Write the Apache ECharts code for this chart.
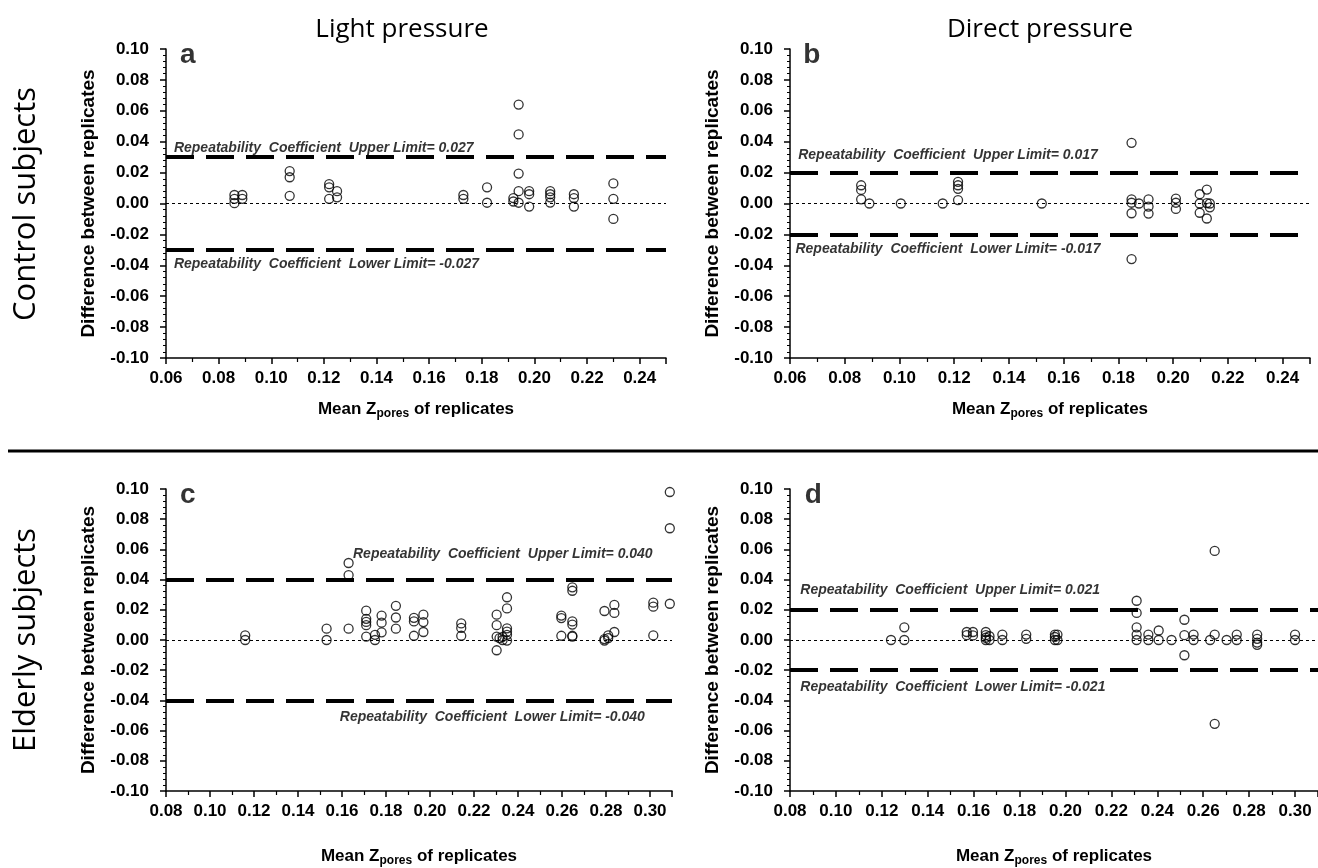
<!DOCTYPE html>
<html><head><meta charset="utf-8">
<script src="https://cdn.jsdelivr.net/npm/echarts@6/dist/echarts.min.js"></script>
<style>html,body{margin:0;padding:0;background:#fff}#c{width:1318px;height:868px}</style>
</head><body><div id="c"></div>
<script>
// Panel a: control subjects, light pressure
const aX=[0.086,0.086,0.086,0.089,0.089,0.107,0.107,0.107,0.122,0.122,0.122,0.125,0.125,0.173,0.173,0.182,0.182,0.192,0.192,0.194,0.194,0.194,0.194,0.194,0.198,0.198,0.198,0.206,0.206,0.206,0.206,0.215,0.215,0.215,0.230,0.230,0.230];
const aY=[0.0055,0.003,0.0002,0.0055,0.003,0.021,0.017,0.005,0.0125,0.0105,0.003,0.008,0.004,0.0055,0.003,0.0105,0.0005,0.0035,0.0013,0.064,0.0447,0.0194,0.008,0.0005,0.008,0.006,-0.002,0.008,0.006,0.004,0.0006,0.006,0.0035,-0.002,0.013,0.003,-0.010];
// Panel b: control subjects, direct pressure
const bX=[0.086,0.086,0.086,0.089,0.1005,0.1158,0.1214,0.1214,0.1214,0.1214,0.152,0.1848,0.1848,0.1848,0.1848,0.1848,0.1875,0.191,0.191,0.191,0.201,0.201,0.201,0.2097,0.2097,0.2097,0.2123,0.2123,0.2123,0.2134,0.2134];
const bY=[0.0118,0.0088,0.0027,0.0,0.0,0.0,0.014,0.0118,0.0095,0.0022,0.0,0.0393,0.0027,0.0005,-0.0063,-0.0360,0.0,0.0027,-0.002,-0.0065,0.0032,0.0005,-0.0035,0.006,0.0,-0.006,0.009,0.0003,-0.0097,0.0,-0.0025];
// Panel c: elderly subjects, light pressure
const cX=[0.116,0.116,0.153,0.153,0.163,0.163,0.163,0.171,0.171,0.171,0.171,0.171,0.175,0.175,0.178,0.178,0.178,0.1845,0.1845,0.1845,0.1927,0.1927,0.1927,0.197,0.197,0.197,0.2142,0.2142,0.2142,0.2303,0.2303,0.2303,0.2303,0.2316,0.233,0.233,0.235,0.235,0.235,0.235,0.235,0.235,0.2597,0.2597,0.2597,0.2647,0.2647,0.2647,0.2647,0.2647,0.2647,0.2793,0.2793,0.2793,0.281,0.281,0.2838,0.2838,0.2838,0.3015,0.3015,0.3015,0.309,0.309,0.309];
const cY=[0.003,0.0,0.0075,0.0,0.051,0.043,0.0075,0.0194,0.014,0.012,0.0098,0.0023,0.0034,0.0,0.0162,0.0115,0.0051,0.0226,0.0149,0.0075,0.0147,0.0123,0.0028,0.0168,0.0119,0.0053,0.011,0.008,0.0028,0.0168,0.0098,0.0023,-0.0068,0.0013,0.002,0.0,0.0283,0.0209,0.0077,0.0055,0.0034,-0.0004,0.0162,0.0145,0.0028,0.0349,0.0326,0.0123,0.0102,0.0028,0.0023,0.0192,0.0006,-0.0004,0.003,0.0013,0.0232,0.0179,0.0053,0.0247,0.0221,0.003,0.098,0.074,0.024];
// Panel d: elderly subjects, direct pressure
const dX=[0.124,0.1298,0.1298,0.157,0.157,0.1597,0.1597,0.1653,0.1653,0.1653,0.1653,0.1669,0.1669,0.1725,0.1725,0.1829,0.1829,0.1954,0.1954,0.1954,0.1965,0.1965,0.231,0.231,0.231,0.231,0.231,0.2361,0.2361,0.2406,0.2406,0.2462,0.2518,0.2518,0.2518,0.2558,0.2558,0.263,0.265,0.265,0.265,0.2702,0.2746,0.2746,0.2835,0.2835,0.2835,0.2835,0.300,0.300];
const dY=[0.0,0.0084,0.0,0.0053,0.0032,0.0053,0.003,0.0053,0.0032,0.0015,0.0,0.0025,0.0,0.0036,0.0,0.0036,0.0008,0.0036,0.002,0.0,0.0036,0.0,0.026,0.0179,0.0084,0.0036,0.0,0.0036,0.0,0.0063,0.0,0.0,0.0134,0.0032,-0.0101,0.0036,0.0,0.0,0.059,0.0036,-0.0555,0.0,0.0036,0.0,0.0036,0.0008,-0.0017,-0.0032,0.0036,0.0];

const limits=[0.027,0.017,0.040,0.021];
const limitText=['0.027','0.017','0.040','0.021'];
const panelLetters=['a','b','c','d'];
const xRanges=[[0.06,0.25],[0.06,0.25],[0.08,0.31],[0.08,0.31]];
const yRange=[-0.10,0.10];
const columnTitles=['Light pressure','Direct pressure'];
const rowTitles=['Control subjects','Elderly subjects'];
const yName='Difference between replicates';
// annotation anchors (data coords)
const upPos=[[0.063,0.036],[0.063,0.0314],[0.165,0.057],[0.0845,0.033]];
const loPos=[[0.063,-0.039],[0.062,-0.0296],[0.159,-0.0508],[0.0845,-0.0315]];
const letterPos=[[0.0653,0.096],[0.0648,0.096],[0.0864,0.096],[0.0864,0.096]];

const grids=[
 {left:166,top:49,width:500,height:309},
 {left:790,top:49,width:520,height:309},
 {left:166,top:489,width:506,height:303},
 {left:790,top:489,width:528,height:303}
];
const nameGaps=[41,41,55,55];
const XS=[aX,bX,cX,dX], YS=[aY,bY,cY,dY];

const FF='Liberation Sans, Arial';
const tickFont={fontFamily:FF,fontWeight:'bold',fontSize:17,color:'#000'};
const annFont={fontFamily:FF,fontWeight:'bold',fontStyle:'italic',fontSize:14,color:'#000'};

const xAxes=[],yAxes=[],series=[];
for(let i=0;i<4;i++){
  xAxes.push({gridIndex:i,type:'value',min:xRanges[i][0],max:xRanges[i][1],interval:0.02,
    axisLine:{onZero:false,lineStyle:{color:'#000',width:1.5}},
    axisTick:{length:6,lineStyle:{color:'#000',width:1.5}},
    minorTick:{show:true,splitNumber:2,length:4,lineStyle:{color:'#000',width:1.2}},
    splitLine:{show:false},minorSplitLine:{show:false},
    axisLabel:Object.assign({margin:12,showMaxLabel:false,formatter:v=>v.toFixed(2)},tickFont),
    name:'{b|Mean Z}{s|pores}{b| of replicates}',nameLocation:'middle',nameGap:nameGaps[i],
    nameTextStyle:{rich:{b:{fontFamily:FF,fontWeight:'bold',fontSize:17,color:'#000'},
      s:{fontFamily:FF,fontWeight:'bold',fontSize:12,color:'#000',verticalAlign:'bottom',padding:[9,0,0,0]}}}
  });
  yAxes.push({gridIndex:i,type:'value',min:yRange[0],max:yRange[1],interval:0.02,
    axisLine:{onZero:false,lineStyle:{color:'#000',width:1.5}},
    axisTick:{length:6,lineStyle:{color:'#000',width:1.5}},
    minorTick:{show:true,splitNumber:5,length:3,lineStyle:{color:'#000',width:1}},
    splitLine:{show:false},minorSplitLine:{show:false},
    axisLabel:Object.assign({margin:17,formatter:v=>v.toFixed(2)},tickFont),
    name:yName,nameLocation:'middle',nameGap:68,
    nameTextStyle:{fontFamily:FF,fontWeight:'bold',fontSize:19,color:'#000'}
  });
  const L=limits[i];
  series.push({type:'scatter',xAxisIndex:i,yAxisIndex:i,symbol:'circle',symbolSize:9,
    itemStyle:{color:'rgba(0,0,0,0)',borderColor:'#000',borderWidth:1.3},
    data:XS[i].map((x,k)=>[x,YS[i][k]]),z:5,silent:true,
    markLine:{silent:true,symbol:['none','none'],label:{show:false},
      data:[
        {yAxis:L,lineStyle:{color:'#000',width:4,type:[28,12]}},
        {yAxis:-L,lineStyle:{color:'#000',width:4,type:[28,12]}},
        {yAxis:0,lineStyle:{color:'#000',width:1,type:[3,3]}}
      ]}
  });
  series.push({type:'scatter',xAxisIndex:i,yAxisIndex:i,symbolSize:0,silent:true,z:6,
    data:[
      {value:upPos[i],label:Object.assign({show:true,position:'right',distance:0,formatter:'Repeatability  Coefficient  Upper Limit= '+limitText[i]},annFont)},
      {value:loPos[i],label:Object.assign({show:true,position:'right',distance:0,formatter:'Repeatability  Coefficient  Lower Limit= -'+limitText[i]},annFont)},
      {value:letterPos[i],label:{show:true,position:'right',distance:0,formatter:panelLetters[i],fontFamily:FF,fontWeight:'bold',fontSize:28,color:'#000'}}
    ]
  });
}

const chart=echarts.init(document.getElementById('c'),null,{renderer:'canvas'});
chart.setOption({
  backgroundColor:'#fff',animation:false,
  grid:grids,xAxis:xAxes,yAxis:yAxes,series:series,
  graphic:[
    {type:'text',x:402,y:30,style:{text:columnTitles[0],font:'26px "Open Sans"',fill:'#000',align:'center',verticalAlign:'middle'}},
    {type:'text',x:1040,y:30,style:{text:columnTitles[1],font:'26px "Open Sans"',fill:'#000',align:'center',verticalAlign:'middle'}},
    {type:'text',x:26,y:204,rotation:Math.PI/2,style:{text:rowTitles[0],font:'31px "Open Sans"',fill:'#000',align:'center',verticalAlign:'middle'}},
    {type:'text',x:26,y:640,rotation:Math.PI/2,style:{text:rowTitles[1],font:'31px "Open Sans"',fill:'#000',align:'center',verticalAlign:'middle'}},
    {type:'line',shape:{x1:8,y1:451,x2:1318,y2:451},style:{stroke:'#000',lineWidth:3}}
  ]
});
</script></body></html>
